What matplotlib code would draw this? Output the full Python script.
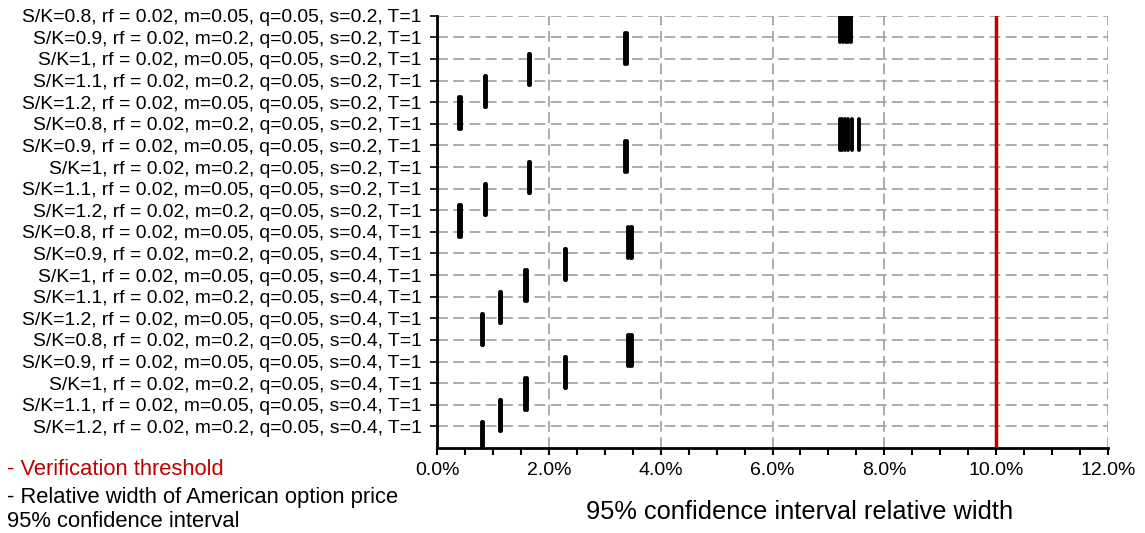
import matplotlib.pyplot as plt
from matplotlib.ticker import MultipleLocator, PercentFormatter

plt.rcParams['font.family'] = ['Liberation Sans', 'DejaVu Sans']

# row labels (top to bottom)
labels = [
    "S/K=0.8, rf = 0.02, m=0.05, q=0.05, s=0.2, T=1",
    "S/K=0.9, rf = 0.02, m=0.2, q=0.05, s=0.2, T=1",
    "S/K=1, rf = 0.02, m=0.05, q=0.05, s=0.2, T=1",
    "S/K=1.1, rf = 0.02, m=0.2, q=0.05, s=0.2, T=1",
    "S/K=1.2, rf = 0.02, m=0.05, q=0.05, s=0.2, T=1",
    "S/K=0.8, rf = 0.02, m=0.2, q=0.05, s=0.2, T=1",
    "S/K=0.9, rf = 0.02, m=0.05, q=0.05, s=0.2, T=1",
    "S/K=1, rf = 0.02, m=0.2, q=0.05, s=0.2, T=1",
    "S/K=1.1, rf = 0.02, m=0.05, q=0.05, s=0.2, T=1",
    "S/K=1.2, rf = 0.02, m=0.2, q=0.05, s=0.2, T=1",
    "S/K=0.8, rf = 0.02, m=0.05, q=0.05, s=0.4, T=1",
    "S/K=0.9, rf = 0.02, m=0.2, q=0.05, s=0.4, T=1",
    "S/K=1, rf = 0.02, m=0.05, q=0.05, s=0.4, T=1",
    "S/K=1.1, rf = 0.02, m=0.2, q=0.05, s=0.4, T=1",
    "S/K=1.2, rf = 0.02, m=0.05, q=0.05, s=0.4, T=1",
    "S/K=0.8, rf = 0.02, m=0.2, q=0.05, s=0.4, T=1",
    "S/K=0.9, rf = 0.02, m=0.05, q=0.05, s=0.4, T=1",
    "S/K=1, rf = 0.02, m=0.2, q=0.05, s=0.4, T=1",
    "S/K=1.1, rf = 0.02, m=0.05, q=0.05, s=0.4, T=1",
    "S/K=1.2, rf = 0.02, m=0.2, q=0.05, s=0.4, T=1",
]

# relative CI widths (%) per row, several runs each
widths = [
    [7.20, 7.26, 7.31, 7.35, 7.40],
    [3.37, 3.39],
    [1.65, 1.67],
    [0.85, 0.87],
    [0.40, 0.42],
    [7.20, 7.25, 7.30, 7.35, 7.42, 7.55],
    [3.37, 3.39],
    [1.65, 1.67],
    [0.85, 0.87],
    [0.40, 0.42],
    [3.42, 3.46, 3.49],
    [2.29, 2.31],
    [1.58, 1.60],
    [1.12, 1.14],
    [0.81, 0.83],
    [3.41, 3.45, 3.48],
    [2.28, 2.30],
    [1.58, 1.60],
    [1.12, 1.14],
    [0.81, 0.83],
]

threshold = 10.0
red = '#C00000'

fig = plt.figure(figsize=(11.45, 5.33), dpi=100)
ax = fig.add_axes([0.3817, 0.1595, 0.586, 0.811])

for i, row in enumerate(widths):
    for w in row:
        ax.plot([w, w], [i - 0.22, i + 1.22], color='black', lw=2.8,
                solid_capstyle='round', zorder=3)

ax.axvline(threshold, color=red, lw=2.5, zorder=4)

ax.set_xlim(0, 12)
ax.set_ylim(20, 0)
ax.set_yticks(range(len(labels)))
ax.set_yticklabels(labels, fontsize=13.9)
ax.xaxis.set_major_locator(MultipleLocator(2))
ax.xaxis.set_minor_locator(MultipleLocator(0.5))
ax.xaxis.set_major_formatter(PercentFormatter(xmax=100, decimals=1))
ax.tick_params(axis='x', which='both', length=5, width=1.5, labelsize=14, pad=5)
ax.tick_params(axis='y', length=5, width=1.2, pad=6)

ax.grid(True, color='#A6A6A6', linestyle=(0, (6, 3)), lw=1.3)
ax.set_axisbelow(True)
for s in ['top', 'right']:
    ax.spines[s].set_visible(False)
ax.spines['left'].set_linewidth(2)
ax.spines['bottom'].set_linewidth(2)

ax.set_xlabel("95% confidence interval relative width", fontsize=18.3, labelpad=14)
ax.xaxis.set_label_coords(0.541, -0.12)

fig.text(0.006, 0.12, "- Verification threshold", color=red, fontsize=15.8, va='center')
fig.text(0.006, 0.0675, "- Relative width of American option price", color='black',
         fontsize=15.8, va='center')
fig.text(0.006, 0.0225, "95% confidence interval", color='black', fontsize=15.8, va='center')

fig.savefig('out.png', dpi=100)
